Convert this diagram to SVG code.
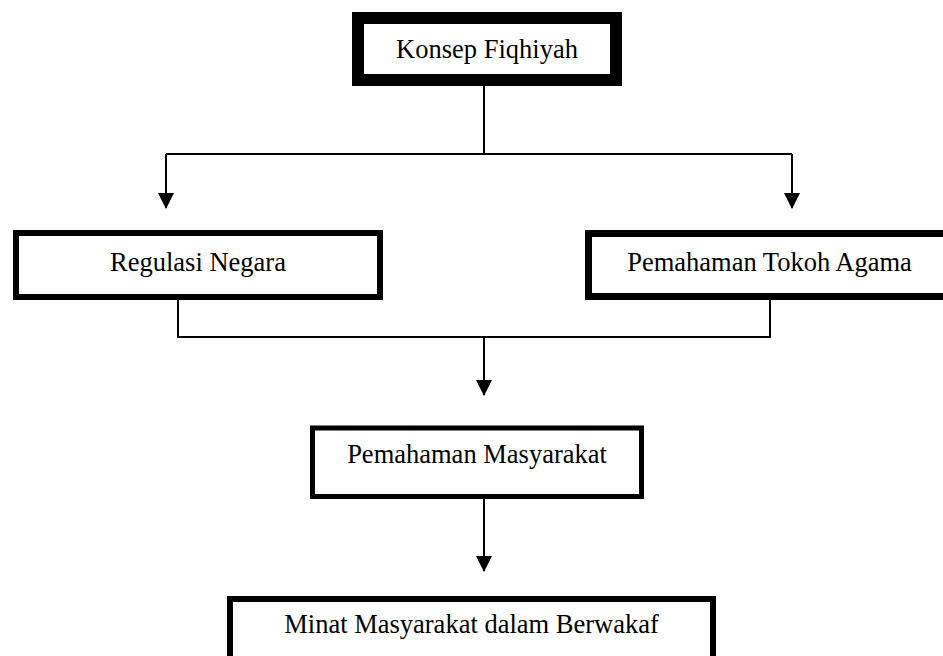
<svg xmlns="http://www.w3.org/2000/svg" width="943" height="656" viewBox="0 0 943 656">
<style>
.box{fill:#fff;stroke:#000}
.lbl{font-family:"Liberation Serif","Times New Roman",serif;font-size:26.5px;fill:#000;text-anchor:middle}
.ln{fill:none;stroke:#000;stroke-width:2}
</style>
<defs>
<marker id="arr" markerUnits="userSpaceOnUse" markerWidth="16" markerHeight="17" refX="15" refY="8" orient="auto" viewBox="0 0 16 16">
<path d="M0,0 L16,8 L0,16 Z" fill="#000"/>
</marker>
</defs>
<rect width="943" height="656" fill="#fff"/>
<g id="connectors">
<path class="ln" d="M484,85 V154 M166,154 H792"/>
<path class="ln" d="M166,154 V208" marker-end="url(#arr)"/>
<path class="ln" d="M792,154 V208" marker-end="url(#arr)"/>
<path class="ln" d="M178,300 V337 H770 V300"/>
<path class="ln" d="M484,337 V395" marker-end="url(#arr)"/>
<path class="ln" d="M484,499 V571" marker-end="url(#arr)"/>
</g>
<g id="konsep">
<rect class="box" x="358" y="18" width="258" height="62" stroke-width="12"/>
<text class="lbl" x="487" y="58">Konsep Fiqhiyah</text>
</g>
<g id="regulasi">
<rect class="box" x="16" y="233" width="364" height="64" stroke-width="6"/>
<text class="lbl" x="198" y="271">Regulasi Negara</text>
</g>
<g id="tokoh">
<rect class="box" x="588.5" y="233.5" width="366" height="63" stroke-width="7"/>
<text class="lbl" x="769.5" y="271">Pemahaman Tokoh Agama</text>
</g>
<g id="masyarakat">
<rect class="box" x="312.5" y="428" width="329" height="68.5" stroke-width="5"/>
<text class="lbl" x="477" y="463">Pemahaman Masyarakat</text>
</g>
<g id="minat">
<rect class="box" x="230" y="599" width="483" height="80" stroke-width="6"/>
<text class="lbl" x="471.5" y="633">Minat Masyarakat dalam Berwakaf</text>
</g>
</svg>
